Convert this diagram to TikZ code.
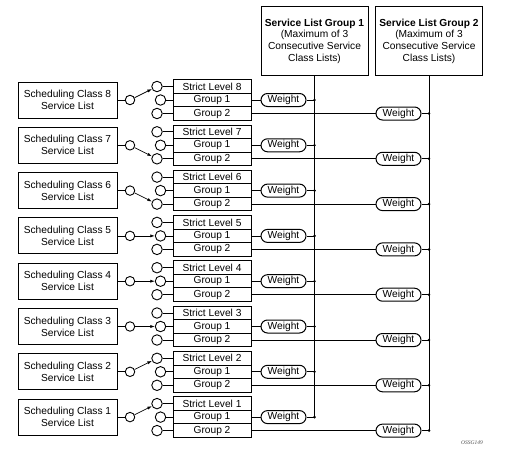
\documentclass[tikz,border=0pt]{standalone}
\usepackage{fontspec}
\setmainfont{Liberation Sans}
\newfontfamily\tagfont{Liberation Serif}
\usetikzlibrary{arrows.meta}

\tikzset{
  listbox/.style={draw, line width=1pt, minimum width=99pt, minimum height=36pt,
    align=center, inner sep=1pt, font=\fontsize{10.2}{12}\selectfont},
  groupbox/.style={draw, line width=1pt, minimum width=107pt, minimum height=68pt,
    align=center, inner sep=1pt, font=\fontsize{10.2}{11.7}\selectfont},
  levelbox/.style={draw, line width=1pt, minimum width=78pt, minimum height=13.5pt,
    inner sep=0pt, font=\fontsize{10.2}{12}\selectfont},
  port/.style={draw, line width=0.9pt, circle, minimum size=10.5pt, inner sep=0pt},
  weight/.style={draw, line width=1pt, rounded corners=6.5pt, minimum width=45pt,
    minimum height=13pt, inner sep=0pt, font=\fontsize{10.2}{12}\selectfont},
  wire/.style={line width=0.7pt},
}

\begin{document}
\begin{tikzpicture}[x=1pt,y=-1pt]
    \useasboundingbox (0,0) rectangle (505,460);
    \node[groupbox] (slg1) at (314.5,41) {\textbf{Service List Group 1}\\(Maximum of 3\\Consecutive Service\\Class Lists)};
    \node[groupbox] (slg2) at (429,41) {\textbf{Service List Group 2}\\(Maximum of 3\\Consecutive Service\\Class Lists)};
    \foreach \n/\t in {8/s,7/b,6/b,5/a,4/a,3/a,2/s,1/s} {
      \pgfmathsetmacro{\ys}{86.5+(8-\n)*45.3}
      \pgfmathsetmacro{\ya}{\ys+13.5}
      \pgfmathsetmacro{\yb}{\ys+27}
      \node[listbox] (cls\n) at (67.5,\ya) {Scheduling Class \n\\Service List};
      \node[port, minimum size=9.5pt] (sw\n) at (130,\ya) {};
      \node[port] (ps\n) at (157,\ys) {};
      \node[port] (pa\n) at (160.5,\ya) {};
      \node[port] (pb\n) at (157,\yb) {};
      \node[levelbox] (ls\n) at (212,\ys) {Strict Level \n};
      \node[levelbox] (la\n) at (212,\ya) {Group 1};
      \node[levelbox] (lb\n) at (212,\yb) {Group 2};
      \node[weight] (wa\n) at (283.5,\ya) {Weight};
      \node[weight] (wb\n) at (398.5,\yb) {Weight};
      \coordinate (da\n) at (314.5,\ya);
      \coordinate (db\n) at (429,\yb);
      \draw[wire] (cls\n) -- (sw\n);
      \draw[wire,-{Latex[length=4.5pt,width=3.2pt]}] (sw\n) -- (p\t\n);
      \draw[wire] (ps\n) -- (ls\n);
      \draw[wire] (pa\n) -- (la\n);
      \draw[wire] (pb\n) -- (lb\n);
      \draw[wire] (la\n) -- (wa\n) -- (da\n);
      \draw[wire] (lb\n) -- (wb\n) -- (db\n);
    }
    \draw[wire] (slg1) -- (da1);
    \draw[wire] (slg2) -- (db1);
    \foreach \n in {1,...,8} {
      \fill (da\n) circle (1.4pt);
      \fill (db\n) circle (1.4pt);
    }
    \node[font=\tagfont\itshape\fontsize{5.5}{6}\selectfont, text=black!70] (tag) at (472,443) {OSSG149};
\end{tikzpicture}
\end{document}
